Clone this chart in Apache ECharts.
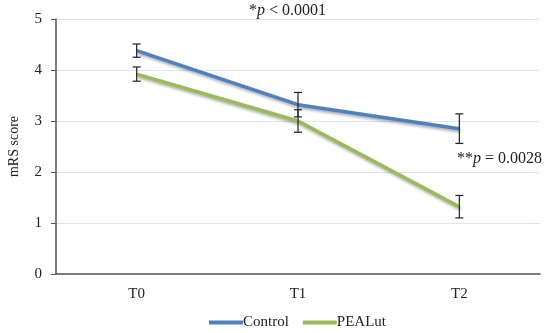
<!DOCTYPE html>
<html><head><meta charset="utf-8">
<script src="https://cdn.jsdelivr.net/npm/echarts@6/dist/echarts.min.js"></script>
<style>html,body{margin:0;padding:0;background:#fff}#c{width:550px;height:333px}</style>
</head><body><div id="c"></div>
<script>
var categories = ['T0', 'T1', 'T2'];
var controlValues = [4.38, 3.32, 2.85];
var controlErrors = [0.13, 0.24, 0.29];
var pealutValues = [3.92, 3.0, 1.32];
var pealutErrors = [0.14, 0.22, 0.22];
var yTicks = [0, 1, 2, 3, 4, 5];

var FONT = 'Liberation Serif';
function errData(vals, errs) {
  return vals.map(function (v, i) { return [i, v - errs[i], v + errs[i]]; });
}
function errRender(params, api) {
  var x = api.value(0);
  var lo = api.coord([x, api.value(1)]);
  var hi = api.coord([x, api.value(2)]);
  var w = 4;
  var st = { stroke: '#222', lineWidth: 1.2 };
  return { type: 'group', children: [
    { type: 'line', shape: { x1: hi[0], y1: hi[1], x2: lo[0], y2: lo[1] }, style: st },
    { type: 'line', shape: { x1: hi[0] - w, y1: hi[1], x2: hi[0] + w, y2: hi[1] }, style: st },
    { type: 'line', shape: { x1: lo[0] - w, y1: lo[1], x2: lo[0] + w, y2: lo[1] }, style: st }
  ]};
}
var chart = echarts.init(document.getElementById('c'));
var lineStyleBase = { width: 3.5, shadowColor: 'rgba(0,0,0,0.35)', shadowBlur: 3, shadowOffsetX: 1, shadowOffsetY: 2 };
chart.setOption({
  animation: false,
  textStyle: { fontFamily: FONT },
  grid: { left: 56, right: 10, top: 19, bottom: 59, containLabel: false, outerBoundsMode: 'none' },
  legend: {
    top: 310, left: 204, itemWidth: 34, itemHeight: 4, itemGap: 14,
    icon: 'rect',
    textStyle: { fontFamily: FONT, fontSize: 15, color: '#222', padding: [0, 0, 0, -5] },
    data: ['Control', 'PEALut']
  },
  xAxis: {
    type: 'category', data: categories,
    axisLine: { lineStyle: { color: '#555', width: 1.5 } },
    axisTick: { alignWithLabel: true, length: 2, lineStyle: { color: '#555' } },
    axisLabel: { color: '#222', fontSize: 15, margin: 13, fontFamily: FONT }
  },
  yAxis: {
    type: 'value', min: yTicks[0], max: yTicks[yTicks.length - 1], interval: 1,
    name: 'mRS score', nameLocation: 'middle', nameGap: 35,
    nameTextStyle: { color: '#222', fontSize: 14, fontFamily: FONT },
    axisLine: { show: true, lineStyle: { color: '#555', width: 1.5 } },
    axisTick: { show: true, length: 5, lineStyle: { color: '#555' } },
    axisLabel: { color: '#222', fontSize: 15, margin: 14, fontFamily: FONT },
    splitLine: { lineStyle: { color: '#dce6f2', width: 1 } }
  },
  series: [
    { name: 'Control', type: 'line', data: controlValues, symbol: 'none', color: '#4f81bd',
      lineStyle: Object.assign({ color: '#4f81bd' }, lineStyleBase), z: 3 },
    { name: 'PEALut', type: 'line', data: pealutValues, symbol: 'none', color: '#9bbb59',
      lineStyle: Object.assign({ color: '#9bbb59' }, lineStyleBase), z: 3 },
    { type: 'custom', data: errData(controlValues, controlErrors), renderItem: errRender, z: 5, silent: true },
    { type: 'custom', data: errData(pealutValues, pealutErrors), renderItem: errRender, z: 5, silent: true }
  ],
  graphic: [
    { type: 'text', left: 249, top: 3, style: { rich: {
        n: { fontFamily: FONT, fontSize: 16, fill: '#222' },
        i: { fontFamily: FONT, fontSize: 16, fill: '#222', fontStyle: 'italic' } },
        text: '{n|*}{i|p}{n| < 0.0001}' } },
    { type: 'text', left: 457, top: 151, style: { rich: {
        n: { fontFamily: FONT, fontSize: 16, fill: '#222' },
        i: { fontFamily: FONT, fontSize: 16, fill: '#222', fontStyle: 'italic' } },
        text: '{n|**}{i|p}{n| = 0.0028}' } }
  ]
});
</script></body></html>
